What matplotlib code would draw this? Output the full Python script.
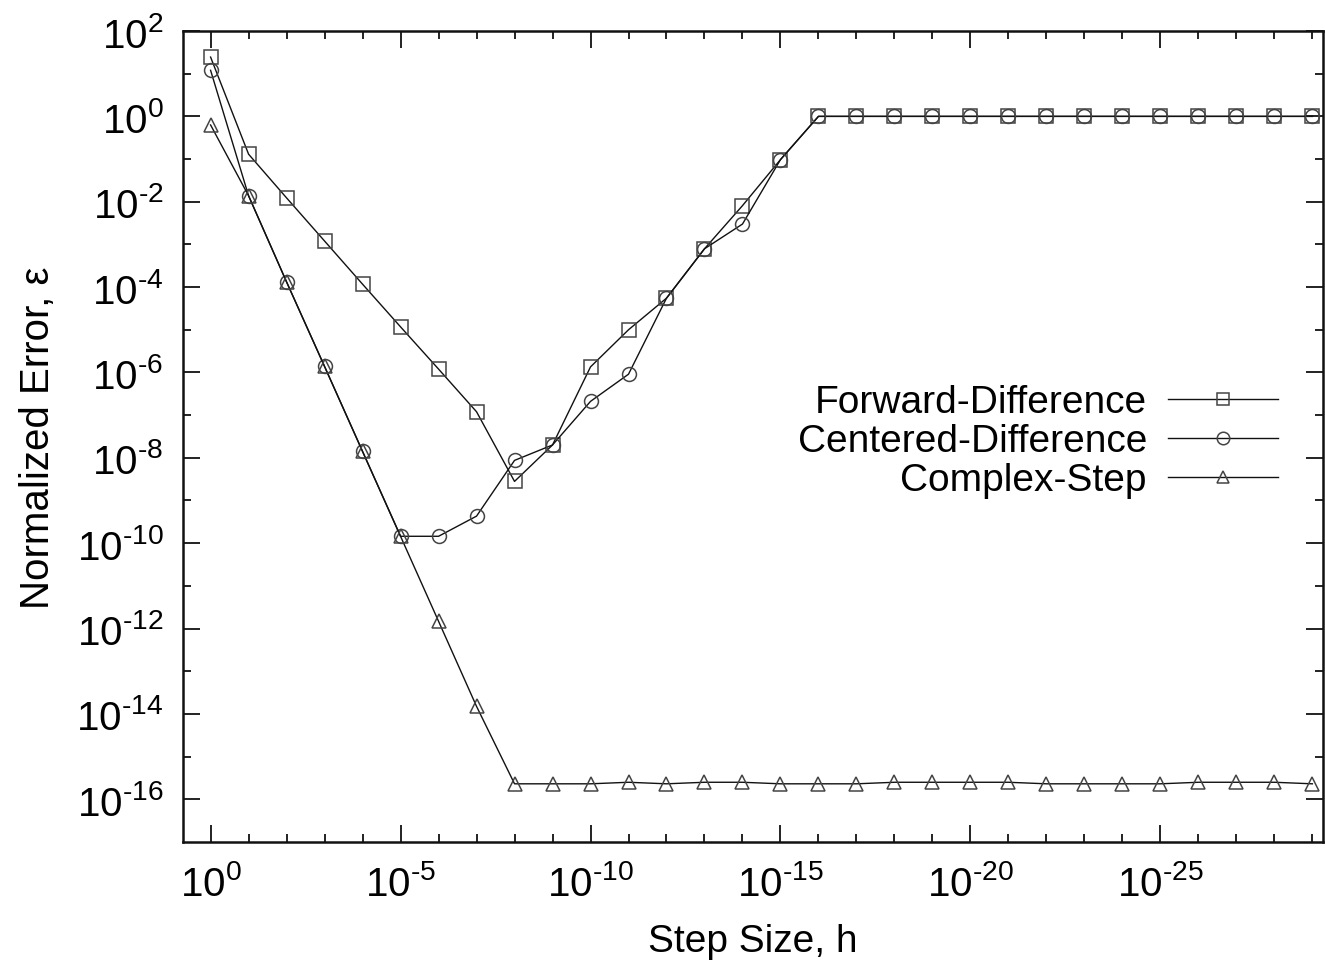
import matplotlib
matplotlib.use("Agg")
import matplotlib.pyplot as plt
import numpy as np
from matplotlib.ticker import FixedLocator, FuncFormatter, NullFormatter

plt.rcParams['font.family'] = ['Liberation Sans', 'DejaVu Sans']
plt.rcParams['mathtext.fontset'] = 'custom'
plt.rcParams['mathtext.rm'] = 'Liberation Sans'

# step sizes h = 10^0 ... 10^-29
h = [1e0, 1e-1, 1e-2, 1e-3, 1e-4, 1e-5, 1e-6, 1e-7, 1e-8, 1e-9,
     1e-10, 1e-11, 1e-12, 1e-13, 1e-14, 1e-15, 1e-16, 1e-17, 1e-18, 1e-19,
     1e-20, 1e-21, 1e-22, 1e-23, 1e-24, 1e-25, 1e-26, 1e-27, 1e-28, 1e-29]

forward = [24.5, 0.13, 1.23e-2, 1.2e-3, 1.17e-4, 1.17e-5, 1.2e-6, 1.2e-7, 2.8e-9, 2.0e-8,
           1.35e-6, 1.0e-5, 5.5e-5, 7.9e-4, 8.1e-3, 9.7e-2, 1.0, 1.0, 1.0, 1.0,
           1.0, 1.0, 1.0, 1.0, 1.0, 1.0, 1.0, 1.0, 1.0, 1.0]

centered = [12.0, 1.38e-2, 1.32e-4, 1.38e-6, 1.41e-8, 1.45e-10, 1.45e-10, 4.3e-10, 8.7e-9, 2.0e-8,
            2.1e-7, 9.1e-7, 5.5e-5, 7.9e-4, 3.0e-3, 9.7e-2, 1.0, 1.0, 1.0, 1.0,
            1.0, 1.0, 1.0, 1.0, 1.0, 1.0, 1.0, 1.0, 1.0, 1.0]

complex_step = [0.63, 1.38e-2, 1.32e-4, 1.38e-6, 1.41e-8, 1.45e-10, 1.48e-12, 1.5e-14, 2.3e-16, 2.3e-16,
                2.3e-16, 2.5e-16, 2.3e-16, 2.5e-16, 2.5e-16, 2.3e-16, 2.3e-16, 2.3e-16, 2.5e-16, 2.5e-16,
                2.5e-16, 2.5e-16, 2.3e-16, 2.3e-16, 2.3e-16, 2.3e-16, 2.5e-16, 2.5e-16, 2.5e-16, 2.3e-16]

labels = ["Forward-Difference", "Centered-Difference", "Complex-Step"]
markers = ["s", "o", "^"]

fig = plt.figure(figsize=(13.25, 9.7), dpi=100)
ax = fig.add_axes([0.138, 0.131, 0.8605, 0.836])

for y, lab, m in zip([forward, centered, complex_step], labels, markers):
    ax.plot(h, y, color='#111111', lw=1.0, marker=m, markersize=10,
            markerfacecolor='none', markeredgecolor='#444444', markeredgewidth=1.1,
            label=lab)

ax.set_xscale('log')
ax.set_yscale('log')
ax.set_xlim(10 ** 0.73, 10 ** -29.28)
ax.set_ylim(1e-17, 1e2)

ax.xaxis.set_major_locator(FixedLocator([10.0 ** -k for k in range(0, 30, 5)]))
ax.xaxis.set_minor_locator(FixedLocator([10.0 ** -k for k in range(0, 30)]))
ax.yaxis.set_major_locator(FixedLocator([10.0 ** k for k in range(2, -17, -2)]))
ax.yaxis.set_minor_locator(FixedLocator([10.0 ** k for k in range(1, -17, -2)]))


def pow_label(v, pos):
    e = int(round(np.log10(v)))
    if e < 0:
        return r'$\mathregular{10^{\text{-}%d}}$' % (-e)
    return r'$\mathregular{10^{%d}}$' % e


fmt = FuncFormatter(pow_label)
ax.xaxis.set_major_formatter(fmt)
ax.yaxis.set_major_formatter(fmt)
ax.xaxis.set_minor_formatter(NullFormatter())
ax.yaxis.set_minor_formatter(NullFormatter())

ax.tick_params(which='both', direction='in', top=True, right=True, width=1.3,
               labelsize=29, color='#111111')
ax.tick_params(which='major', length=12)
ax.tick_params(which='minor', length=6)
ax.tick_params(axis='x', pad=16)
ax.tick_params(axis='y', pad=14)

for s in ax.spines.values():
    s.set_linewidth(1.8)
    s.set_color('#111111')

ax.set_xlabel("Step Size, h", fontsize=28, labelpad=14)
ax.set_ylabel("Normalized Error, \u03b5", fontsize=29, labelpad=14)

leg = ax.legend(loc='center right', bbox_to_anchor=(0.9605, 0.494), frameon=False,
                markerfirst=False, fontsize=28, handlelength=2.83, handletextpad=0.54,
                labelspacing=0.08, borderpad=0, borderaxespad=0)
for line in leg.get_lines():
    line.set_markersize(9)

fig.savefig("out.png", dpi=100)
